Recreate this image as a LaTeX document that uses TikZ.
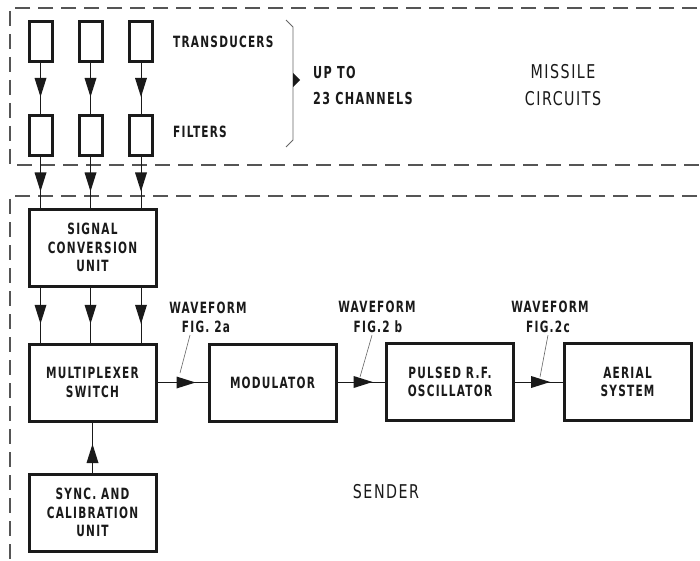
\documentclass[tikz,border=0pt]{standalone}
\usepackage{fontspec}
\setmainfont{DejaVu Sans Bold}[FakeStretch=0.68, LetterSpace=8]
\newfontfamily\bigfont{DejaVu Sans}[FakeStretch=0.75, LetterSpace=8]
\usetikzlibrary{arrows.meta,decorations.markings}
\definecolor{ink}{HTML}{1A1A1A}
\definecolor{dash}{HTML}{555555}
\definecolor{thin}{HTML}{666666}
\newcommand{\lbl}{\fontsize{15.5}{18.5}\selectfont}
\newcommand{\biglbl}{\bigfont\fontsize{19}{27}\selectfont}
\tikzset{
  blk/.style={draw=ink, line width=3pt, minimum width=127pt, minimum height=77pt, inner sep=0pt, align=center, font=\lbl, text=ink},
  cell/.style={draw=ink, line width=3pt, minimum width=23pt, minimum height=40pt, inner sep=0pt},
  txt/.style={font=\lbl, text=ink, inner sep=0pt, align=center},
  bigtxt/.style={font=\biglbl, text=ink, inner sep=0pt, align=center},
  flow/.style={draw=ink, line width=0.8pt, postaction={decorate}, decoration={markings, mark=at position #1 with {\fill[ink] (-19pt,-6pt) -- (0pt,0pt) -- (-19pt,6pt) -- cycle;}}},
  dashline/.style={draw=dash, line width=1.4pt, dash pattern=on 15pt off 8pt},
  leader/.style={draw=thin, line width=0.6pt}
}
\begin{document}
\begin{tikzpicture}[x=1pt,y=-1pt]
\clip (0,0) rectangle (700,561);
\fill[white] (0,0) rectangle (700,561);
% dashed enclosures
\draw[dashline] (720,8) -- (10,8) -- (10,165) -- (720,165);
\draw[dashline] (720,196) -- (10,196) -- (10,580);
% transducers and filters
\node[cell] (t1) at (40.5,41.5) {};
\node[cell] (t2) at (90.5,41.5) {};
\node[cell] (t3) at (141,41.5) {};
\node[cell] (fl1) at (40.5,136) {};
\node[cell] (fl2) at (90.5,136) {};
\node[cell] (fl3) at (141,136) {};
\node[txt, anchor=west] (ltr) at (173,42) {TRANSDUCERS};
\node[txt, anchor=west] (lfi) at (173,132) {FILTERS};
% brace
\draw[draw=thin, line width=0.8pt] (286,20) -- (293,27) -- (293,140) -- (286,147);
\fill[ink] (293,73) -- (300,80) -- (293,87) -- cycle;
\node[txt, anchor=west, font=\fontsize{16.5}{18.5}\selectfont] (up) at (313,72) {UP TO};
\node[txt, anchor=west, font=\fontsize{16.5}{18.5}\selectfont] (ch) at (313,98) {23 CHANNELS};
\node[bigtxt] (mis) at (563,85.5) {MISSILE\\CIRCUITS};
% main blocks
\node[blk] (scu) at (92.5,247.5) {SIGNAL\\CONVERSION\\UNIT};
\node[blk] (mux) at (92.5,382.5) {MULTIPLEXER\\SWITCH};
\node[blk] (sync) at (92.5,512.5) {SYNC. AND\\CALIBRATION\\UNIT};
\node[blk] (mod) at (272.5,382.5) {MODULATOR};
\node[blk] (osc) at (450,382) {PULSED R.F.\\OSCILLATOR};
\node[blk] (aer) at (627.5,382) {AERIAL\\SYSTEM};
\node[bigtxt] (snd) at (386,492) {SENDER};
% vertical flows
\foreach \i in {1,2,3}{
  \draw[flow=0.66] (t\i.south) -- (fl\i.north);
  \draw[flow=0.68] (fl\i.south) -- (scu.north -| fl\i);
  \draw[flow=0.66] (scu.south -| fl\i) -- (mux.north -| fl\i);
}
\draw[flow=0.57] (sync.north) -- (mux.south);
% horizontal flows
\draw[flow=0.76] (mux.east |- mod.west) -- (mod.west);
\draw[flow=0.74] (mod.east |- osc.west) -- (osc.west);
\draw[flow=0.74] (osc.east) -- (aer.west);
% waveform labels
\node[txt] (wa) at (208,308) {WAVEFORM};
\node[txt] (fa) at (206,327) {FIG. 2a};
\node[txt] (wb) at (377,307) {WAVEFORM};
\node[txt] (fb) at (378,327) {FIG.2 b};
\node[txt] (wc) at (550,307) {WAVEFORM};
\node[txt] (fc) at (548,327) {FIG.2c};
\coordinate (pa) at (180,373);
\coordinate (pb) at (360,377);
\coordinate (pc) at (540,377);
\draw[leader] ([xshift=-16pt,yshift=-2pt]fa.south) -- (pa);
\draw[leader] ([xshift=-6pt,yshift=-2pt]fb.south) -- (pb);
\draw[leader] ([xshift=0pt,yshift=-2pt]fc.south) -- (pc);
\end{tikzpicture}
\end{document}
